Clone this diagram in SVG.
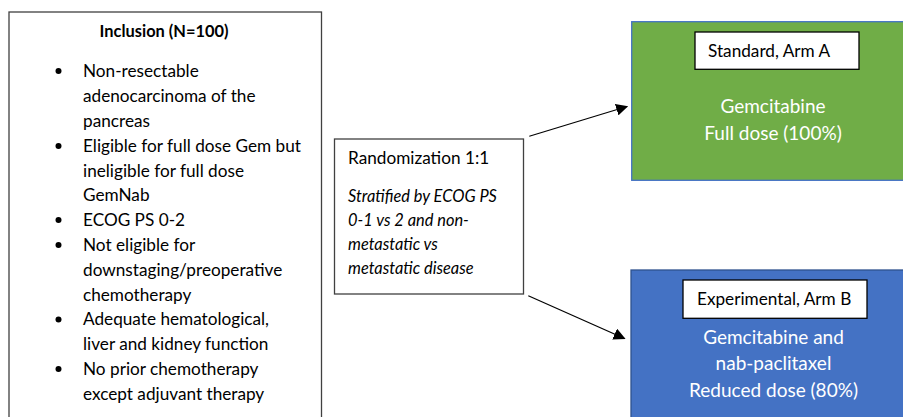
<svg xmlns="http://www.w3.org/2000/svg" width="903" height="417" viewBox="0 0 903 417">
<style>
text{font-family:"Lato","Open Sans","Liberation Sans",sans-serif;font-size:17.2px;fill:#000}
.w{fill:#fff;font-size:19px}
.b{font-weight:bold;font-size:16.4px}
.i{font-style:italic;font-size:16.4px}
.c{text-anchor:middle}
.box{fill:#fff;stroke:#404040;stroke-width:1.3}
.lbl{fill:#fff;stroke:#000;stroke-width:1.3}
.conn{stroke:#000;stroke-width:1.2;fill:none;marker-end:url(#ah)}
</style>
<defs>
<marker id="ah" viewBox="0 0 10 10" refX="9" refY="5" markerWidth="12" markerHeight="12" markerUnits="userSpaceOnUse" orient="auto">
<path d="M0,0 L10,5 L0,10 z" fill="#000"/>
</marker>
</defs>
<rect width="903" height="417" fill="#fff"/>
<g id="inclusion">
<rect class="box" x="9" y="12" width="312.5" height="420"/>
<text class="b c" x="164" y="37">Inclusion (N=100)</text>
<g fill="#000">
<circle cx="58.5" cy="71" r="3"/>
<circle cx="58.5" cy="146" r="3"/>
<circle cx="58.5" cy="220" r="3"/>
<circle cx="58.5" cy="245" r="3"/>
<circle cx="58.5" cy="319.5" r="3"/>
<circle cx="58.5" cy="369" r="3"/>
</g>
<text x="83" y="77">Non-resectable</text>
<text x="83" y="102">adenocarcinoma of the</text>
<text x="83" y="127">pancreas</text>
<text x="83" y="152">Eligible for full dose Gem but</text>
<text x="83" y="176.5">ineligible for full dose</text>
<text x="83" y="201">GemNab</text>
<text x="83" y="226">ECOG PS 0-2</text>
<text x="83" y="251">Not eligible for</text>
<text x="83" y="276">downstaging/preoperative</text>
<text x="83" y="300.5">chemotherapy</text>
<text x="83" y="325">Adequate hematological,</text>
<text x="83" y="350">liver and kidney function</text>
<text x="83" y="375">No prior chemotherapy</text>
<text x="83" y="400">except adjuvant therapy</text>
</g>
<g id="randomization">
<rect class="box" x="334.5" y="139" width="189" height="155"/>
<text x="348" y="164">Randomization 1:1</text>
<text class="i" x="348" y="202">Stratified by ECOG PS</text>
<text class="i" x="348" y="226">0-1 vs 2 and non-</text>
<text class="i" x="348" y="250">metastatic vs</text>
<text class="i" x="348" y="274">metastatic disease</text>
</g>
<g id="armA">
<rect x="631.7" y="21.7" width="290" height="158.6" fill="#70AD47" stroke="#4472C4" stroke-width="1.3"/>
<rect class="lbl" x="695" y="32" width="164" height="37.3"/>
<text x="708" y="57">Standard, Arm A</text>
<text class="w c" x="773" y="113">Gemcitabine</text>
<text class="w c" x="773" y="139.5">Full dose (100%)</text>
</g>
<g id="armB">
<rect x="631" y="270" width="290" height="160" fill="#4472C4" stroke="#2F528F" stroke-width="1.3"/>
<rect class="lbl" x="683" y="280" width="184" height="38.3"/>
<text x="697" y="305">Experimental, Arm B</text>
<text class="w c" x="773.5" y="344">Gemcitabine and</text>
<text class="w c" x="773.5" y="370">nab-paclitaxel</text>
<text class="w c" x="773.5" y="397">Reduced dose (80%)</text>
</g>
<g id="connectors">
<line class="conn" x1="529.3" y1="136.3" x2="627" y2="106.5"/>
<line class="conn" x1="528.3" y1="295.7" x2="624.5" y2="338.5"/>
</g>
</svg>
